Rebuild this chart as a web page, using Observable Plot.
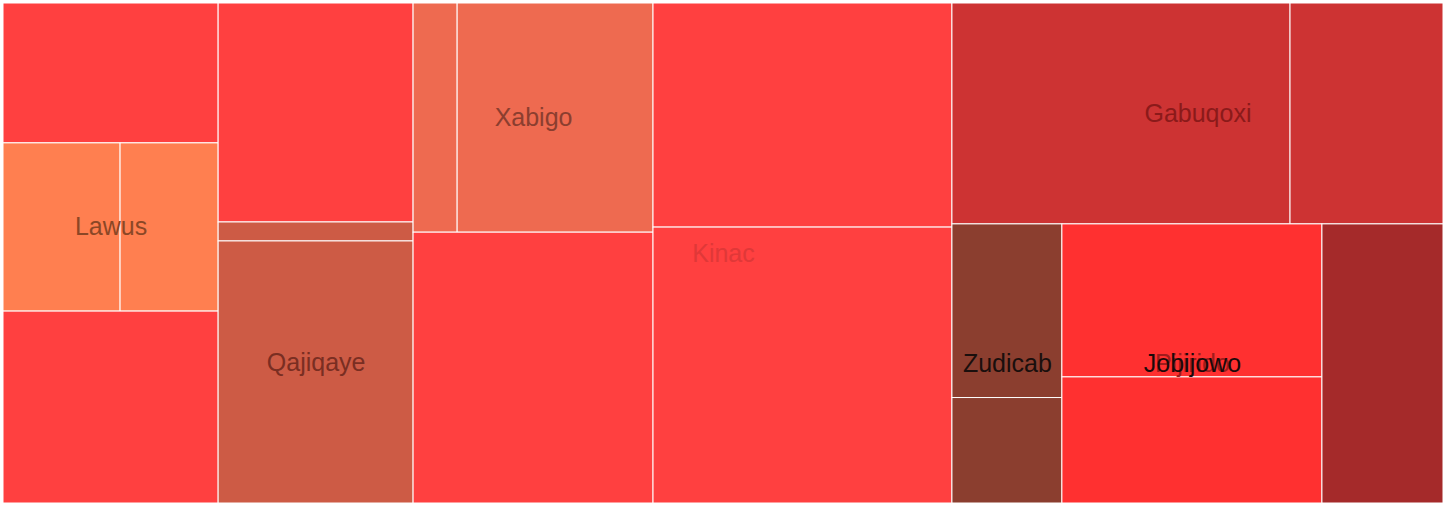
<!DOCTYPE html>
<html>
<head>
<meta charset="utf-8">
<script src="https://cdn.jsdelivr.net/npm/d3@7"></script>
<script src="https://cdn.jsdelivr.net/npm/@observablehq/plot@0.6"></script>
<style>
  html, body { margin: 0; padding: 0; background: #ffffff; }
  #chart svg { display: block; }
</style>
</head>
<body>
<div id="chart"></div>
<script>
// Leaves of the treemap (path in the hierarchy, colour group, value)
const leafPaths = [
  "/c1/r1", "/c1/r2/a", "/c1/r2/b", "/c1/r3",
  "/c2/r1", "/c2/r2", "/c2/r3",
  "/c3/r1/a", "/c3/r1/b", "/c3/r2",
  "/c4/r1", "/c4/r2",
  "/c5/r1/a", "/c5/r1/b", "/c5/r2/z/a", "/c5/r2/z/b", "/c5/r2/j/a", "/c5/r2/j/b", "/c5/r2/k"
];
const leafGroups = [
  "Kinac", "Lawus", "Lawus", "Kinac",
  "Kinac", "Qajiqaye", "Qajiqaye",
  "Xabigo", "Xabigo", "Kinac",
  "Kinac", "Kinac",
  "Gabuqoxi", "Gabuqoxi", "Zudicab", "Zudicab", "Jobijowo", "Jobijowo", "g8"
];
const leafValues = [
  301, 197, 165, 413,
  427, 37, 511,
  101, 449, 650,
  670, 825,
  747, 338, 191, 116, 398, 328, 338
];

// Colour of each group
const groupKeys   = ["Kinac", "Lawus", "Qajiqaye", "Xabigo", "Gabuqoxi", "Zudicab", "Jobijowo", "g8"];
const groupColors = ["#FF4040", "#FF7F50", "#CD5B45", "#EE6A50", "#CD3333", "#8B3E2F", "#FF3030", "#A52A2A"];

// Labels: text, group whose extent centres it (null = whole chart), text colour
const labelTexts  = ["Kinac", "Lawus", "Qajiqaye", "Xabigo", "Gabuqoxi", "Zudicab", "Pijirido", "Jobijowo"];
const labelGroups = [null, "Lawus", "Qajiqaye", "Xabigo", "Gabuqoxi", "Zudicab", "Jobijowo", "Jobijowo"];
const labelColors = ["#E03838", "#8B4726", "#7A2E22", "#8B3E2F", "#8B1A1A", "#1A0F0D", "#A01C1C", "#1A0A0A"];

const W = 1440, H = 500;

const leaves = leafPaths.map((p, i) => ({path: p, group: leafGroups[i], value: leafValues[i], ord: i}));
const root = d3.stratify().path(d => d.path)(leaves)
  .sum(d => (d && d.value) || 0);
// keep the input order of the leaves (implied parent nodes are otherwise appended last)
root.eachAfter(n => { n.ord = n.children ? d3.min(n.children, c => c.ord) : n.data.ord; });
root.sort((a, b) => a.ord - b.ord);
d3.treemap().tile(d3.treemapSliceDice).size([W, H]).round(false)(root);

const colorOf = Object.fromEntries(groupKeys.map((k, i) => [k, groupColors[i]]));
const cells = root.leaves().map(n => ({
  x0: n.x0, x1: n.x1, y0: n.y0, y1: n.y1,
  group: n.data.group, fill: colorOf[n.data.group]
}));

const labels = labelTexts.map((t, i) => {
  const g = labelGroups[i];
  const sel = g == null ? cells : cells.filter(c => c.group === g);
  const x0 = d3.min(sel, c => c.x0), x1 = d3.max(sel, c => c.x1);
  const y0 = d3.min(sel, c => c.y0), y1 = d3.max(sel, c => c.y1);
  return {text: t, x: (x0 + x1) / 2, y: (y0 + y1) / 2, color: labelColors[i]};
});

const chart = Plot.plot({
  width: 1446,
  height: 507,
  margin: 0,
  x: {domain: [0, W], range: [3, 3 + W], axis: null},
  y: {domain: [0, H], range: [3, 3 + H], axis: null},
  color: {type: "identity"},
  style: {background: "#ffffff", fontFamily: "'Liberation Sans', Arial, sans-serif"},
  marks: [
    Plot.rect(cells, {x1: "x0", x2: "x1", y1: "y0", y2: "y1", fill: "fill", stroke: "white", strokeWidth: 1}),
    Plot.text(labels, {x: "x", y: "y", text: "text", fill: "color", fontSize: 25,
      fontFamily: "'Liberation Sans', Arial, sans-serif"})
  ]
});
document.getElementById("chart").appendChild(chart);
</script>
</body>
</html>
